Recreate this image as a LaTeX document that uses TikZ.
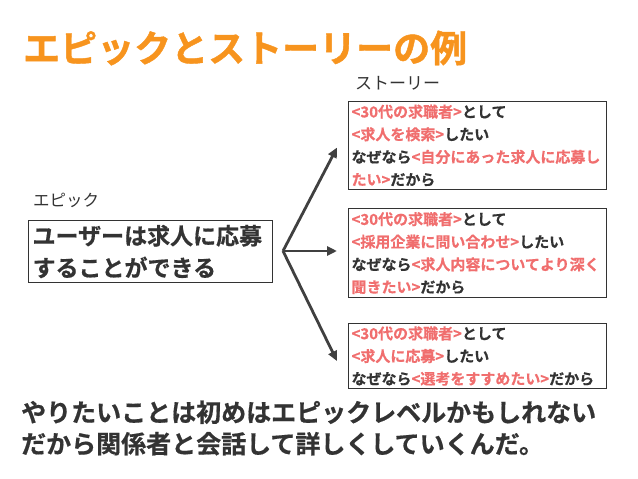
\documentclass[tikz,border=0pt]{standalone}
\usepackage{fontspec}
\usetikzlibrary{arrows.meta}
\newfontfamily\jpf{Noto Sans CJK JP}
\newfontfamily\jph[FakeBold=1.2]{Noto Sans CJK JP Bold}
\newfontfamily\jpm[FakeBold=0.6]{Noto Sans CJK JP Bold}
\definecolor{ttl}{RGB}{247,148,30}
\definecolor{pk}{RGB}{240,110,110}
\definecolor{dk}{RGB}{51,51,51}
\definecolor{ar}{RGB}{64,64,64}
\tikzset{
  storybox/.style={draw=dk, line width=1.1pt, anchor=north west, inner xsep=3pt, inner ysep=0pt,
    text width=252pt, minimum width=258pt, align=left, text=dk,
    font=\jpm\fontsize{15}{22.6}\selectfont},
  lbl/.style={anchor=west, inner sep=0pt, text=dk, font=\jpf\fontsize{17}{20}\selectfont},
  arr/.style={draw=ar, line width=2.8pt, -{Triangle[length=10pt,width=9pt]}},
}
\newcommand{\pkt}[1]{\textcolor{pk}{#1}}
\begin{document}
\begin{tikzpicture}[x=1pt,y=-1pt]
\useasboundingbox (0,0) rectangle (638,479);
\node[anchor=west, inner sep=0pt, text=ttl, font=\jph\fontsize{37}{40}\selectfont] (title) at (23,48) {エピックとストーリーの例};
\node[lbl] (storylbl) at (355,83) {ストーリー};
\node[lbl, font=\jpf\fontsize{16.5}{20}\selectfont] (epiclbl) at (33,200) {エピック};
\node[storybox, minimum height=88pt] (s1) at (348,101) {\pkt{<30代の求職者>}として\\\pkt{<求人を検索>}したい\\なぜなら\pkt{<自分にあった求人に応募し}\\\pkt{たい>}だから};
\node[storybox, minimum height=89pt] (s2) at (348,208) {\pkt{<30代の求職者>}として\\\pkt{<採用企業に問い合わせ>}したい\\なぜなら\pkt{<求人内容についてより深く}\\\pkt{聞きたい>}だから};
\node[storybox, minimum height=65pt] (s3) at (348,323) {\pkt{<30代の求職者>}として\\\pkt{<求人に応募>}したい\\なぜなら\pkt{<選考をすすめたい>}だから};
\node[draw=dk, line width=1.1pt, anchor=north west, inner xsep=4pt, inner ysep=0pt, text width=236pt,
  minimum width=244pt, minimum height=62pt, align=left, text=dk,
  font=\jpm\fontsize{23}{32}\selectfont] (epic) at (28,220) {ユーザーは求人に応募\\することができる};
\coordinate (hub) at (283,251);
\draw[arr] (hub) -- ([xshift=-11pt,yshift=-2pt]s1.west);
\draw[arr] (hub) -- ([xshift=-11pt]s2.west |- hub);
\draw[arr] (hub) -- ([xshift=-11pt,yshift=-5pt]s3.west);
\node[anchor=west, inner sep=0pt, align=left, text=dk, font=\jpm\fontsize{25}{31.5}\selectfont] (bottom) at (21,428) {やりたいことは初めはエピックレベルかもしれない\\だから関係者と会話して詳しくしていくんだ。};
\end{tikzpicture}
\end{document}
